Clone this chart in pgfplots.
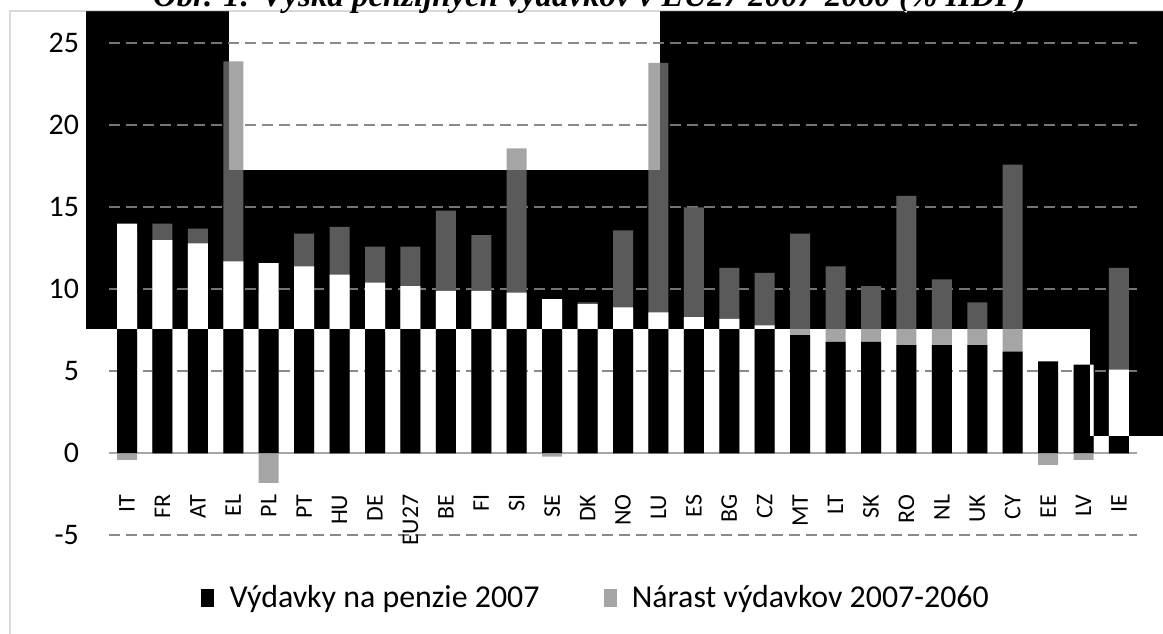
\documentclass[border=0pt]{standalone}
\usepackage{fontspec}
\setmainfont{Carlito}
\newfontfamily\titlefont{Liberation Serif}
\usepackage{pgfplots}
\pgfplotsset{compat=1.18}
\usepackage{pgfplotstable}
\definecolor{incgray}{HTML}{A5A5A5}
\definecolor{gridgray}{HTML}{8A8A8A}
\definecolor{axgray}{HTML}{A6A6A6}
\definecolor{framegray}{HTML}{D9D9D9}
% idx, spending 2007 (% GDP), change 2007-2060 (p.p.)
\pgfplotstableread{
idx black inc
0  14.0 -0.4
1  13.0  1.0
2  12.8  0.9
3  11.7 12.2
4  11.6 -1.8
5  11.4  2.0
6  10.9  2.9
7  10.4  2.2
8  10.2  2.4
9   9.9  4.9
10  9.9  3.4
11  9.8  8.8
12  9.4 -0.2
13  9.1  0.1
14  8.9  4.7
15  8.6 15.2
16  8.3  6.7
17  8.2  3.1
18  7.8  3.2
19  7.2  6.2
20  6.8  4.6
21  6.8  3.4
22  6.6  9.1
23  6.6  4.0
24  6.6  2.6
25  6.2 11.4
26  5.6 -0.7
27  5.4 -0.4
28  5.1  6.2
}\pensions
\begin{document}
\begin{tikzpicture}
\fill[white] (0,0) rectangle (581.5bp,317bp);
\draw[framegray, line width=0.75bp] (5bp,-5bp) -- (5bp,311.5bp) -- (590bp,311.5bp);
\node[font=\titlefont\bfseries\itshape\fontsize{16.5}{18}\selectfont, anchor=base, inner sep=0pt] at (294.75bp,313.5bp) {Obr. 1: Výška penzijných výdavkov v EU27 2007-2060 (\% HDP)};
\begin{axis}[
  at={(54.65bp,49.35bp)}, anchor=south west,
  scale only axis, width=513.7bp, height=246bp,
  xmin=-0.5, xmax=28.5, ymin=-5, ymax=25,
  axis x line=middle, axis y line=left,
  x axis line style={-, draw=axgray, line width=1bp},
  y axis line style={draw=none},
  major tick length=0pt,
  ytick={-5,0,5,10,15,20,25},
  yticklabels={-5,0,5,10,15,20,25},
  yticklabel style={anchor=east, inner sep=0pt, xshift=-15bp, font=\fontsize{15}{15}\selectfont},
  xtick={0,...,28},
  xticklabels={IT,FR,AT,EL,PL,PT,HU,DE,EU27,BE,FI,SI,SE,DK,NO,LU,ES,BG,CZ,MT,LT,SK,RO,NL,UK,CY,EE,LV,IE},
  xticklabel style={rotate=90, anchor=east, inner sep=0pt, font=\fontsize{12}{12}\selectfont},
  xticklabel shift=20.5bp,
  ymajorgrids,
  major grid style={draw=gridgray, line width=1bp, dash pattern=on 5.5bp off 3bp},
  legend columns=2,
  legend style={at={(0.4747,-0.1274)}, anchor=center, draw=none, fill=none,
    font=\fontsize{16}{16}\selectfont,
    /tikz/every even column/.append style={column sep=30bp}},
]
\addlegendimage{legend image code/.code={\fill[black] (0bp,-4.25bp) rectangle (6bp,4.25bp); \path[draw=none, fill=none] (0bp,0bp) -- (12bp,0bp);}}
\addlegendentry{Výdavky na penzie 2007}
\addlegendimage{legend image code/.code={\fill[incgray] (0bp,-4.25bp) rectangle (6bp,4.25bp); \path[draw=none, fill=none] (0bp,0bp) -- (12bp,0bp);}}
\addlegendentry{Nárast výdavkov 2007-2060}
\addplot[ybar, bar width=10bp, bar shift=0pt, fill=incgray, draw=none, forget plot]
  table[x=idx, y expr=\thisrow{black}+\thisrow{inc}] {\pensions};
\addplot[ybar, bar width=10bp, bar shift=0pt, fill=black, draw=none, forget plot]
  table[x=idx, y=black] {\pensions};
\addplot[ybar, bar width=10bp, bar shift=0pt, fill=incgray, draw=none, forget plot]
  table[x=idx, y expr={min(\thisrow{inc},0)}] {\pensions};
\end{axis}
\begin{scope}[blend mode=difference]
\fill[white] (43bp,152.5bp) rectangle (581.5bp,311.5bp);
\fill[white] (114.5bp,232bp) rectangle (330bp,311.5bp);
\fill[white] (545bp,99bp) rectangle (581.5bp,152.5bp);
\end{scope}
\pgfresetboundingbox
\useasboundingbox (0,0) rectangle (581.5bp,317bp);
\end{tikzpicture}
\end{document}
